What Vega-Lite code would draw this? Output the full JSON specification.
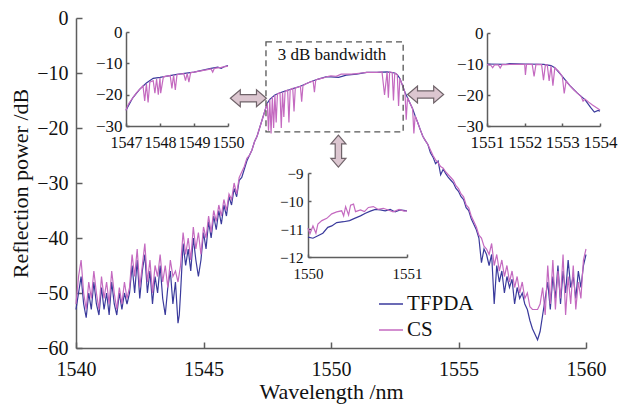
{
  "$schema": "https://vega.github.io/schema/vega-lite/v6.json",
  "width": 510,
  "height": 330,
  "autosize": {"type": "none"},
  "padding": {"left": 76, "top": 18, "right": 37, "bottom": 56},
  "background": "white",
  "config": {
    "view": {"stroke": null},
    "axis": {
      "grid": false,
      "domainColor": "#5e5e5e",
      "tickColor": "#5e5e5e",
      "domainWidth": 1.5,
      "tickWidth": 1.5,
      "labelFont": "Liberation Serif",
      "titleFont": "Liberation Serif",
      "labelColor": "#111111",
      "titleColor": "#111111",
      "titleFontWeight": "normal",
      "labelFlush": false,
      "labelOverlap": false
    },
    "legend": {
      "orient": "none",
      "legendX": 302,
      "legendY": 273,
      "symbolType": "stroke",
      "symbolSize": 576,
      "symbolStrokeWidth": 1.5,
      "labelFont": "Liberation Serif",
      "labelFontSize": 21,
      "labelColor": "#111111",
      "rowPadding": 3,
      "labelOffset": 3,
      "title": null
    }
  },
  "datasets": {
    "main": [
      {"s":"TFPDA","x":1540.0,"y":-53},{"s":"TFPDA","x":1540.1,"y":-50},{"s":"TFPDA","x":1540.2,"y":-47},{"s":"TFPDA","x":1540.3,"y":-52},{"s":"TFPDA","x":1540.4,"y":-54.5},{"s":"TFPDA","x":1540.5,"y":-50},{"s":"TFPDA","x":1540.6,"y":-53},{"s":"TFPDA","x":1540.7,"y":-48},{"s":"TFPDA","x":1540.8,"y":-52},{"s":"TFPDA","x":1540.9,"y":-54},
      {"s":"TFPDA","x":1541.0,"y":-49},{"s":"TFPDA","x":1541.1,"y":-53},{"s":"TFPDA","x":1541.2,"y":-50},{"s":"TFPDA","x":1541.3,"y":-54},{"s":"TFPDA","x":1541.4,"y":-48},{"s":"TFPDA","x":1541.5,"y":-52},{"s":"TFPDA","x":1541.6,"y":-54},{"s":"TFPDA","x":1541.7,"y":-50},{"s":"TFPDA","x":1541.8,"y":-53},{"s":"TFPDA","x":1541.9,"y":-50},
      {"s":"TFPDA","x":1542.0,"y":-52},{"s":"TFPDA","x":1542.1,"y":-50},{"s":"TFPDA","x":1542.2,"y":-45},{"s":"TFPDA","x":1542.3,"y":-50},{"s":"TFPDA","x":1542.4,"y":-44},{"s":"TFPDA","x":1542.5,"y":-51},{"s":"TFPDA","x":1542.6,"y":-46},{"s":"TFPDA","x":1542.7,"y":-43},{"s":"TFPDA","x":1542.8,"y":-50},{"s":"TFPDA","x":1542.9,"y":-46},
      {"s":"TFPDA","x":1543.0,"y":-52},{"s":"TFPDA","x":1543.1,"y":-47},{"s":"TFPDA","x":1543.2,"y":-50},{"s":"TFPDA","x":1543.3,"y":-45},{"s":"TFPDA","x":1543.4,"y":-51},{"s":"TFPDA","x":1543.5,"y":-54},{"s":"TFPDA","x":1543.6,"y":-49},{"s":"TFPDA","x":1543.7,"y":-46},{"s":"TFPDA","x":1543.8,"y":-52},{"s":"TFPDA","x":1543.9,"y":-48},
      {"s":"TFPDA","x":1544.0,"y":-55.5},{"s":"TFPDA","x":1544.05,"y":-54},{"s":"TFPDA","x":1544.1,"y":-50},{"s":"TFPDA","x":1544.2,"y":-41},{"s":"TFPDA","x":1544.3,"y":-45},{"s":"TFPDA","x":1544.4,"y":-42},{"s":"TFPDA","x":1544.5,"y":-46},{"s":"TFPDA","x":1544.6,"y":-40},{"s":"TFPDA","x":1544.7,"y":-44},{"s":"TFPDA","x":1544.8,"y":-47},{"s":"TFPDA","x":1544.9,"y":-44},
      {"s":"TFPDA","x":1545.0,"y":-39},{"s":"TFPDA","x":1545.1,"y":-42},{"s":"TFPDA","x":1545.2,"y":-37},{"s":"TFPDA","x":1545.3,"y":-40},{"s":"TFPDA","x":1545.4,"y":-36},{"s":"TFPDA","x":1545.5,"y":-38.5},{"s":"TFPDA","x":1545.6,"y":-35},{"s":"TFPDA","x":1545.7,"y":-37.5},{"s":"TFPDA","x":1545.8,"y":-34},{"s":"TFPDA","x":1545.9,"y":-36},
      {"s":"TFPDA","x":1546.0,"y":-32.5},{"s":"TFPDA","x":1546.1,"y":-34},{"s":"TFPDA","x":1546.2,"y":-31},{"s":"TFPDA","x":1546.3,"y":-32.5},{"s":"TFPDA","x":1546.4,"y":-29.5},{"s":"TFPDA","x":1546.5,"y":-29},{"s":"TFPDA","x":1546.6,"y":-27.5},{"s":"TFPDA","x":1546.7,"y":-26},{"s":"TFPDA","x":1546.8,"y":-25},{"s":"TFPDA","x":1546.9,"y":-24},
      {"s":"TFPDA","x":1547.0,"y":-22.5},{"s":"TFPDA","x":1547.1,"y":-21.5},{"s":"TFPDA","x":1547.2,"y":-20},{"s":"TFPDA","x":1547.3,"y":-18.5},{"s":"TFPDA","x":1547.4,"y":-17},{"s":"TFPDA","x":1547.5,"y":-15.5},{"s":"TFPDA","x":1547.6,"y":-14.8},{"s":"TFPDA","x":1547.8,"y":-14.0},
      {"s":"TFPDA","x":1548.0,"y":-13.6},{"s":"TFPDA","x":1548.2,"y":-13.3},{"s":"TFPDA","x":1548.4,"y":-13.0},{"s":"TFPDA","x":1548.6,"y":-12.7},{"s":"TFPDA","x":1548.8,"y":-12.4},{"s":"TFPDA","x":1549.0,"y":-12.0},{"s":"TFPDA","x":1549.2,"y":-11.6},{"s":"TFPDA","x":1549.5,"y":-11.1},{"s":"TFPDA","x":1549.8,"y":-10.7},
      {"s":"TFPDA","x":1550.0,"y":-10.7},{"s":"TFPDA","x":1550.3,"y":-10.8},{"s":"TFPDA","x":1550.6,"y":-10.4},{"s":"TFPDA","x":1551.0,"y":-10.2},{"s":"TFPDA","x":1551.4,"y":-9.9},{"s":"TFPDA","x":1551.8,"y":-9.9},{"s":"TFPDA","x":1552.2,"y":-9.8},{"s":"TFPDA","x":1552.5,"y":-10.0},{"s":"TFPDA","x":1552.6,"y":-10.3},{"s":"TFPDA","x":1552.7,"y":-11},{"s":"TFPDA","x":1552.8,"y":-12.2},{"s":"TFPDA","x":1552.9,"y":-13.5},
      {"s":"TFPDA","x":1553.0,"y":-14.5},{"s":"TFPDA","x":1553.1,"y":-15.5},{"s":"TFPDA","x":1553.2,"y":-16.5},{"s":"TFPDA","x":1553.3,"y":-17.8},{"s":"TFPDA","x":1553.4,"y":-19},{"s":"TFPDA","x":1553.5,"y":-20.3},{"s":"TFPDA","x":1553.6,"y":-21.5},{"s":"TFPDA","x":1553.7,"y":-22.3},{"s":"TFPDA","x":1553.8,"y":-23},{"s":"TFPDA","x":1553.9,"y":-24.5},
      {"s":"TFPDA","x":1554.0,"y":-25.3},{"s":"TFPDA","x":1554.1,"y":-26.5},{"s":"TFPDA","x":1554.2,"y":-26},{"s":"TFPDA","x":1554.3,"y":-28.5},{"s":"TFPDA","x":1554.4,"y":-27.5},{"s":"TFPDA","x":1554.5,"y":-28.3},{"s":"TFPDA","x":1554.6,"y":-29},{"s":"TFPDA","x":1554.7,"y":-29.5},{"s":"TFPDA","x":1554.8,"y":-30},{"s":"TFPDA","x":1554.9,"y":-31},
      {"s":"TFPDA","x":1555.0,"y":-31.5},{"s":"TFPDA","x":1555.1,"y":-32.5},{"s":"TFPDA","x":1555.2,"y":-33},{"s":"TFPDA","x":1555.3,"y":-34.5},{"s":"TFPDA","x":1555.4,"y":-35},{"s":"TFPDA","x":1555.5,"y":-36.5},{"s":"TFPDA","x":1555.6,"y":-37.5},{"s":"TFPDA","x":1555.7,"y":-38.5},{"s":"TFPDA","x":1555.8,"y":-40},{"s":"TFPDA","x":1555.9,"y":-44.5},
      {"s":"TFPDA","x":1556.0,"y":-42},{"s":"TFPDA","x":1556.1,"y":-43},{"s":"TFPDA","x":1556.2,"y":-45},{"s":"TFPDA","x":1556.3,"y":-43},{"s":"TFPDA","x":1556.4,"y":-52},{"s":"TFPDA","x":1556.5,"y":-45},{"s":"TFPDA","x":1556.6,"y":-48},{"s":"TFPDA","x":1556.7,"y":-46},{"s":"TFPDA","x":1556.8,"y":-50},{"s":"TFPDA","x":1556.9,"y":-47},
      {"s":"TFPDA","x":1557.0,"y":-49},{"s":"TFPDA","x":1557.1,"y":-47.5},{"s":"TFPDA","x":1557.2,"y":-52},{"s":"TFPDA","x":1557.3,"y":-49},{"s":"TFPDA","x":1557.4,"y":-51},{"s":"TFPDA","x":1557.5,"y":-50},{"s":"TFPDA","x":1557.6,"y":-52},{"s":"TFPDA","x":1557.7,"y":-53},{"s":"TFPDA","x":1557.8,"y":-55},{"s":"TFPDA","x":1557.9,"y":-56.5},
      {"s":"TFPDA","x":1558.0,"y":-57.5},{"s":"TFPDA","x":1558.1,"y":-58.5},{"s":"TFPDA","x":1558.2,"y":-57},{"s":"TFPDA","x":1558.3,"y":-54},{"s":"TFPDA","x":1558.4,"y":-51},{"s":"TFPDA","x":1558.5,"y":-48},{"s":"TFPDA","x":1558.6,"y":-53},{"s":"TFPDA","x":1558.7,"y":-47},{"s":"TFPDA","x":1558.8,"y":-51},{"s":"TFPDA","x":1558.9,"y":-45},
      {"s":"TFPDA","x":1559.0,"y":-52},{"s":"TFPDA","x":1559.1,"y":-46},{"s":"TFPDA","x":1559.2,"y":-50},{"s":"TFPDA","x":1559.3,"y":-44},{"s":"TFPDA","x":1559.4,"y":-49},{"s":"TFPDA","x":1559.5,"y":-47},{"s":"TFPDA","x":1559.6,"y":-51},{"s":"TFPDA","x":1559.7,"y":-46},{"s":"TFPDA","x":1559.8,"y":-49},{"s":"TFPDA","x":1559.9,"y":-45},{"s":"TFPDA","x":1560.0,"y":-43},

      {"s":"CS","x":1540.0,"y":-52},{"s":"CS","x":1540.1,"y":-47},{"s":"CS","x":1540.2,"y":-44},{"s":"CS","x":1540.3,"y":-50},{"s":"CS","x":1540.4,"y":-53},{"s":"CS","x":1540.5,"y":-48},{"s":"CS","x":1540.6,"y":-51},{"s":"CS","x":1540.7,"y":-46},{"s":"CS","x":1540.8,"y":-50},{"s":"CS","x":1540.9,"y":-53},
      {"s":"CS","x":1541.0,"y":-47},{"s":"CS","x":1541.1,"y":-51},{"s":"CS","x":1541.2,"y":-48},{"s":"CS","x":1541.3,"y":-52},{"s":"CS","x":1541.4,"y":-46},{"s":"CS","x":1541.5,"y":-50},{"s":"CS","x":1541.6,"y":-53},{"s":"CS","x":1541.7,"y":-49},{"s":"CS","x":1541.8,"y":-52},{"s":"CS","x":1541.9,"y":-48},
      {"s":"CS","x":1542.0,"y":-51},{"s":"CS","x":1542.1,"y":-49},{"s":"CS","x":1542.2,"y":-43},{"s":"CS","x":1542.3,"y":-47},{"s":"CS","x":1542.4,"y":-42},{"s":"CS","x":1542.5,"y":-49},{"s":"CS","x":1542.6,"y":-45},{"s":"CS","x":1542.7,"y":-41},{"s":"CS","x":1542.8,"y":-48},{"s":"CS","x":1542.9,"y":-44},
      {"s":"CS","x":1543.0,"y":-50},{"s":"CS","x":1543.1,"y":-45},{"s":"CS","x":1543.2,"y":-47},{"s":"CS","x":1543.3,"y":-43},{"s":"CS","x":1543.4,"y":-48},{"s":"CS","x":1543.5,"y":-45},{"s":"CS","x":1543.6,"y":-49},{"s":"CS","x":1543.7,"y":-44},{"s":"CS","x":1543.8,"y":-47},{"s":"CS","x":1543.9,"y":-46},
      {"s":"CS","x":1544.0,"y":-48},{"s":"CS","x":1544.1,"y":-45},{"s":"CS","x":1544.2,"y":-39},{"s":"CS","x":1544.3,"y":-43},{"s":"CS","x":1544.4,"y":-40},{"s":"CS","x":1544.5,"y":-44},{"s":"CS","x":1544.6,"y":-38},{"s":"CS","x":1544.7,"y":-42},{"s":"CS","x":1544.8,"y":-39},{"s":"CS","x":1544.9,"y":-43},
      {"s":"CS","x":1545.0,"y":-38},{"s":"CS","x":1545.1,"y":-40},{"s":"CS","x":1545.2,"y":-36},{"s":"CS","x":1545.3,"y":-39},{"s":"CS","x":1545.4,"y":-35},{"s":"CS","x":1545.5,"y":-37},{"s":"CS","x":1545.6,"y":-34},{"s":"CS","x":1545.7,"y":-36},{"s":"CS","x":1545.8,"y":-33},{"s":"CS","x":1545.9,"y":-35},
      {"s":"CS","x":1546.0,"y":-32},{"s":"CS","x":1546.1,"y":-33},{"s":"CS","x":1546.2,"y":-30},{"s":"CS","x":1546.3,"y":-32},{"s":"CS","x":1546.4,"y":-29},{"s":"CS","x":1546.5,"y":-28},{"s":"CS","x":1546.6,"y":-27},{"s":"CS","x":1546.7,"y":-25.5},{"s":"CS","x":1546.8,"y":-25},{"s":"CS","x":1546.9,"y":-24},
      {"s":"CS","x":1547.0,"y":-22.5},{"s":"CS","x":1547.1,"y":-21.5},{"s":"CS","x":1547.2,"y":-20},{"s":"CS","x":1547.3,"y":-18.5},{"s":"CS","x":1547.4,"y":-17},{"s":"CS","x":1547.5,"y":-15.5},{"s":"CS","x":1547.55,"y":-20.5},{"s":"CS","x":1547.6,"y":-14.8},{"s":"CS","x":1547.65,"y":-21},{"s":"CS","x":1547.7,"y":-14.3},{"s":"CS","x":1547.75,"y":-20},{"s":"CS","x":1547.8,"y":-14.0},{"s":"CS","x":1547.85,"y":-19},{"s":"CS","x":1547.9,"y":-13.8},
      {"s":"CS","x":1548.0,"y":-13.6},{"s":"CS","x":1548.05,"y":-20},{"s":"CS","x":1548.1,"y":-13.5},{"s":"CS","x":1548.15,"y":-18},{"s":"CS","x":1548.2,"y":-13.3},{"s":"CS","x":1548.3,"y":-13.1},{"s":"CS","x":1548.35,"y":-19},{"s":"CS","x":1548.4,"y":-13.0},{"s":"CS","x":1548.5,"y":-12.8},{"s":"CS","x":1548.55,"y":-17},{"s":"CS","x":1548.6,"y":-12.7},{"s":"CS","x":1548.7,"y":-12.6},{"s":"CS","x":1548.8,"y":-12.4},{"s":"CS","x":1548.85,"y":-15.2},{"s":"CS","x":1548.9,"y":-12.3},
      {"s":"CS","x":1549.0,"y":-12.0},{"s":"CS","x":1549.2,"y":-11.6},{"s":"CS","x":1549.3,"y":-11.5},{"s":"CS","x":1549.35,"y":-13.5},{"s":"CS","x":1549.4,"y":-11.3},{"s":"CS","x":1549.5,"y":-11.1},{"s":"CS","x":1549.7,"y":-10.9},{"s":"CS","x":1549.9,"y":-10.6},
      {"s":"CS","x":1550.0,"y":-10.5},{"s":"CS","x":1550.2,"y":-10.6},{"s":"CS","x":1550.4,"y":-10.2},{"s":"CS","x":1550.6,"y":-10.2},{"s":"CS","x":1550.8,"y":-10.2},{"s":"CS","x":1551.0,"y":-10.1},{"s":"CS","x":1551.2,"y":-10.0},{"s":"CS","x":1551.4,"y":-9.9},{"s":"CS","x":1551.6,"y":-9.9},{"s":"CS","x":1551.8,"y":-9.9},
      {"s":"CS","x":1552.0,"y":-9.8},{"s":"CS","x":1552.1,"y":-14},{"s":"CS","x":1552.2,"y":-9.8},{"s":"CS","x":1552.25,"y":-14.5},{"s":"CS","x":1552.3,"y":-9.8},{"s":"CS","x":1552.4,"y":-9.9},{"s":"CS","x":1552.45,"y":-15},{"s":"CS","x":1552.5,"y":-10.0},{"s":"CS","x":1552.6,"y":-10.3},{"s":"CS","x":1552.65,"y":-16},{"s":"CS","x":1552.7,"y":-11},{"s":"CS","x":1552.8,"y":-12.2},{"s":"CS","x":1552.9,"y":-13.5},{"s":"CS","x":1552.95,"y":-18.5},
      {"s":"CS","x":1553.0,"y":-14.5},{"s":"CS","x":1553.1,"y":-15.5},{"s":"CS","x":1553.2,"y":-16.5},{"s":"CS","x":1553.25,"y":-21},{"s":"CS","x":1553.3,"y":-17.8},{"s":"CS","x":1553.4,"y":-19},{"s":"CS","x":1553.5,"y":-20.3},{"s":"CS","x":1553.6,"y":-21.5},{"s":"CS","x":1553.7,"y":-22.3},{"s":"CS","x":1553.8,"y":-23},{"s":"CS","x":1553.9,"y":-24},
      {"s":"CS","x":1554.0,"y":-25},{"s":"CS","x":1554.1,"y":-25.8},{"s":"CS","x":1554.2,"y":-26.3},{"s":"CS","x":1554.3,"y":-27},{"s":"CS","x":1554.4,"y":-27.3},{"s":"CS","x":1554.5,"y":-28},{"s":"CS","x":1554.6,"y":-28.5},{"s":"CS","x":1554.7,"y":-29},{"s":"CS","x":1554.8,"y":-29.5},{"s":"CS","x":1554.9,"y":-30.5},
      {"s":"CS","x":1555.0,"y":-31},{"s":"CS","x":1555.1,"y":-32},{"s":"CS","x":1555.2,"y":-32.5},{"s":"CS","x":1555.3,"y":-34},{"s":"CS","x":1555.4,"y":-34.5},{"s":"CS","x":1555.5,"y":-36},{"s":"CS","x":1555.6,"y":-37},{"s":"CS","x":1555.7,"y":-38},{"s":"CS","x":1555.8,"y":-39.5},{"s":"CS","x":1555.9,"y":-40},
      {"s":"CS","x":1556.0,"y":-41.5},{"s":"CS","x":1556.1,"y":-42},{"s":"CS","x":1556.2,"y":-43},{"s":"CS","x":1556.3,"y":-41},{"s":"CS","x":1556.4,"y":-45},{"s":"CS","x":1556.5,"y":-43},{"s":"CS","x":1556.6,"y":-46},{"s":"CS","x":1556.7,"y":-44},{"s":"CS","x":1556.8,"y":-47},{"s":"CS","x":1556.9,"y":-45},
      {"s":"CS","x":1557.0,"y":-48},{"s":"CS","x":1557.1,"y":-46},{"s":"CS","x":1557.2,"y":-49},{"s":"CS","x":1557.3,"y":-47},{"s":"CS","x":1557.4,"y":-50},{"s":"CS","x":1557.5,"y":-48},{"s":"CS","x":1557.6,"y":-51},{"s":"CS","x":1557.7,"y":-50},{"s":"CS","x":1557.8,"y":-52.5},{"s":"CS","x":1557.9,"y":-53},
      {"s":"CS","x":1558.0,"y":-53},{"s":"CS","x":1558.1,"y":-53},{"s":"CS","x":1558.2,"y":-52},{"s":"CS","x":1558.3,"y":-49},{"s":"CS","x":1558.4,"y":-54},{"s":"CS","x":1558.5,"y":-45},{"s":"CS","x":1558.6,"y":-52},{"s":"CS","x":1558.7,"y":-44},{"s":"CS","x":1558.8,"y":-53},{"s":"CS","x":1558.9,"y":-46},
      {"s":"CS","x":1559.0,"y":-51},{"s":"CS","x":1559.1,"y":-43},{"s":"CS","x":1559.2,"y":-54},{"s":"CS","x":1559.3,"y":-47},{"s":"CS","x":1559.4,"y":-52},{"s":"CS","x":1559.5,"y":-45},{"s":"CS","x":1559.6,"y":-53},{"s":"CS","x":1559.7,"y":-48},{"s":"CS","x":1559.8,"y":-51},{"s":"CS","x":1559.9,"y":-44},{"s":"CS","x":1560.0,"y":-42}
    ],
    "inset1": [
      {"s":"TFPDA","x":1547.0,"y":-25},{"s":"TFPDA","x":1547.2,"y":-21},{"s":"TFPDA","x":1547.4,"y":-18.3},{"s":"TFPDA","x":1547.6,"y":-16.3},{"s":"TFPDA","x":1547.8,"y":-14.8},{"s":"TFPDA","x":1548.0,"y":-14.5},{"s":"TFPDA","x":1548.5,"y":-13.5},{"s":"TFPDA","x":1549.0,"y":-12.8},{"s":"TFPDA","x":1549.5,"y":-11.6},{"s":"TFPDA","x":1549.7,"y":-11.2},{"s":"TFPDA","x":1549.8,"y":-11.6},{"s":"TFPDA","x":1549.9,"y":-11.0},{"s":"TFPDA","x":1550.0,"y":-10.7},
      {"s":"CS","x":1547.0,"y":-25},{"s":"CS","x":1547.05,"y":-23.5},{"s":"CS","x":1547.1,"y":-22.5},{"s":"CS","x":1547.2,"y":-21},{"s":"CS","x":1547.3,"y":-19.5},{"s":"CS","x":1547.4,"y":-18.3},{"s":"CS","x":1547.5,"y":-17.2},{"s":"CS","x":1547.55,"y":-22},{"s":"CS","x":1547.6,"y":-16.5},{"s":"CS","x":1547.65,"y":-22.5},{"s":"CS","x":1547.7,"y":-16},{"s":"CS","x":1547.8,"y":-15.5},{"s":"CS","x":1547.85,"y":-19.5},{"s":"CS","x":1547.9,"y":-15},{"s":"CS","x":1547.95,"y":-20},{"s":"CS","x":1548.0,"y":-14.6},{"s":"CS","x":1548.02,"y":-19.5},{"s":"CS","x":1548.1,"y":-14.3},{"s":"CS","x":1548.2,"y":-14.1},{"s":"CS","x":1548.3,"y":-13.9},{"s":"CS","x":1548.35,"y":-18},{"s":"CS","x":1548.4,"y":-13.7},{"s":"CS","x":1548.45,"y":-18.5},{"s":"CS","x":1548.5,"y":-13.6},{"s":"CS","x":1548.6,"y":-13.4},{"s":"CS","x":1548.7,"y":-13.3},{"s":"CS","x":1548.75,"y":-15.5},{"s":"CS","x":1548.8,"y":-13.2},{"s":"CS","x":1548.85,"y":-16},{"s":"CS","x":1548.9,"y":-13.0},{"s":"CS","x":1549.0,"y":-12.8},{"s":"CS","x":1549.2,"y":-12.4},{"s":"CS","x":1549.4,"y":-12.0},{"s":"CS","x":1549.5,"y":-11.8},{"s":"CS","x":1549.55,"y":-12.8},{"s":"CS","x":1549.6,"y":-11.6},{"s":"CS","x":1549.8,"y":-11.3},{"s":"CS","x":1550.0,"y":-10.9}
    ],
    "inset2": [
      {"s":"TFPDA","x":1551.0,"y":-10.0},{"s":"TFPDA","x":1551.5,"y":-10.1},{"s":"TFPDA","x":1551.6,"y":-9.9},{"s":"TFPDA","x":1552.0,"y":-10.0},{"s":"TFPDA","x":1552.5,"y":-10.1},{"s":"TFPDA","x":1552.7,"y":-10.5},{"s":"TFPDA","x":1552.8,"y":-11.2},{"s":"TFPDA","x":1553.0,"y":-14},{"s":"TFPDA","x":1553.2,"y":-17},{"s":"TFPDA","x":1553.4,"y":-19.4},{"s":"TFPDA","x":1553.6,"y":-21.5},{"s":"TFPDA","x":1553.75,"y":-24},{"s":"TFPDA","x":1553.85,"y":-25.5},{"s":"TFPDA","x":1553.95,"y":-25},{"s":"TFPDA","x":1554.0,"y":-25.2},
      {"s":"CS","x":1551.0,"y":-10.2},{"s":"CS","x":1551.1,"y":-10.4},{"s":"CS","x":1551.15,"y":-11.2},{"s":"CS","x":1551.2,"y":-10.3},{"s":"CS","x":1551.3,"y":-10.3},{"s":"CS","x":1551.35,"y":-11.3},{"s":"CS","x":1551.4,"y":-10.2},{"s":"CS","x":1551.5,"y":-10.2},{"s":"CS","x":1551.6,"y":-10.1},{"s":"CS","x":1551.8,"y":-10.1},{"s":"CS","x":1552.0,"y":-10.1},{"s":"CS","x":1552.02,"y":-13.5},{"s":"CS","x":1552.05,"y":-10.1},{"s":"CS","x":1552.2,"y":-10.1},{"s":"CS","x":1552.25,"y":-14},{"s":"CS","x":1552.3,"y":-10.1},{"s":"CS","x":1552.45,"y":-10.2},{"s":"CS","x":1552.5,"y":-15.2},{"s":"CS","x":1552.55,"y":-10.3},{"s":"CS","x":1552.6,"y":-10.3},{"s":"CS","x":1552.65,"y":-15.5},{"s":"CS","x":1552.7,"y":-10.6},{"s":"CS","x":1552.75,"y":-17},{"s":"CS","x":1552.8,"y":-11.2},{"s":"CS","x":1552.9,"y":-12.3},{"s":"CS","x":1553.0,"y":-14.0},{"s":"CS","x":1553.05,"y":-19.5},{"s":"CS","x":1553.1,"y":-15.5},{"s":"CS","x":1553.2,"y":-17},{"s":"CS","x":1553.3,"y":-18.3},{"s":"CS","x":1553.4,"y":-19.4},{"s":"CS","x":1553.5,"y":-20.5},{"s":"CS","x":1553.55,"y":-22},{"s":"CS","x":1553.6,"y":-21.3},{"s":"CS","x":1553.7,"y":-22.3},{"s":"CS","x":1553.8,"y":-23.2},{"s":"CS","x":1553.9,"y":-24},{"s":"CS","x":1554.0,"y":-24.8}
    ],
    "inset3": [
      {"s":"TFPDA","x":1550.0,"y":-11.29},{"s":"TFPDA","x":1550.05,"y":-11.33},{"s":"TFPDA","x":1550.1,"y":-11.24},{"s":"TFPDA","x":1550.15,"y":-11.15},{"s":"TFPDA","x":1550.2,"y":-10.94},{"s":"TFPDA","x":1550.24,"y":-10.89},{"s":"TFPDA","x":1550.29,"y":-10.77},{"s":"TFPDA","x":1550.36,"y":-10.74},{"s":"TFPDA","x":1550.42,"y":-10.7},{"s":"TFPDA","x":1550.47,"y":-10.62},{"s":"TFPDA","x":1550.53,"y":-10.53},{"s":"TFPDA","x":1550.58,"y":-10.44},{"s":"TFPDA","x":1550.63,"y":-10.36},{"s":"TFPDA","x":1550.68,"y":-10.3},{"s":"TFPDA","x":1550.73,"y":-10.32},{"s":"TFPDA","x":1550.78,"y":-10.35},{"s":"TFPDA","x":1550.83,"y":-10.3},{"s":"TFPDA","x":1550.88,"y":-10.39},{"s":"TFPDA","x":1550.93,"y":-10.32},{"s":"TFPDA","x":1551.0,"y":-10.35},
      {"s":"CS","x":1550.0,"y":-10.97},{"s":"CS","x":1550.02,"y":-11.17},{"s":"CS","x":1550.05,"y":-10.89},{"s":"CS","x":1550.08,"y":-11.15},{"s":"CS","x":1550.1,"y":-10.82},{"s":"CS","x":1550.14,"y":-10.7},{"s":"CS","x":1550.19,"y":-10.62},{"s":"CS","x":1550.24,"y":-10.46},{"s":"CS","x":1550.29,"y":-10.39},{"s":"CS","x":1550.34,"y":-10.35},{"s":"CS","x":1550.36,"y":-10.53},{"s":"CS","x":1550.38,"y":-10.2},{"s":"CS","x":1550.41,"y":-10.5},{"s":"CS","x":1550.43,"y":-10.15},{"s":"CS","x":1550.46,"y":-10.11},{"s":"CS","x":1550.48,"y":-10.38},{"s":"CS","x":1550.53,"y":-10.32},{"s":"CS","x":1550.57,"y":-10.38},{"s":"CS","x":1550.61,"y":-10.23},{"s":"CS","x":1550.66,"y":-10.2},{"s":"CS","x":1550.71,"y":-10.3},{"s":"CS","x":1550.76,"y":-10.26},{"s":"CS","x":1550.81,"y":-10.32},{"s":"CS","x":1550.86,"y":-10.39},{"s":"CS","x":1550.92,"y":-10.3},{"s":"CS","x":1550.97,"y":-10.36},{"s":"CS","x":1551.0,"y":-10.35}
    ],
    "box": [{"x":1547.45,"x2":1552.83,"y":-4.35,"y2":-20.7}],
    "label": [{"x":1550.04,"y":-6.7,"t":"3 dB bandwidth"}],
    "harrows": [{"x":1546.76,"y":-14.6},{"x":1553.71,"y":-13.9}],
    "varrows": [{"x":1550.29,"y":-24.2}]
  },
  "layer": [
    {
      "layer": [
        {
          "data": {"name": "main"},
          "mark": {"type": "line", "strokeWidth": 1.2, "interpolate": "linear"},
          "encoding": {
            "x": {"field": "x", "type": "quantitative", "scale": {"domain": [1540, 1560], "nice": false, "zero": false},
                  "axis": {"values": [1540, 1545, 1550, 1555, 1560], "title": "Wavelength /nm", "tickSize": -6, "labelPadding": 17, "labelFontSize": 20, "titleFontSize": 22, "titlePadding": 2, "format": "d"}},
            "y": {"field": "y", "type": "quantitative", "scale": {"domain": [-60, 0], "nice": false, "zero": false},
                  "axis": {"values": [-60, -50, -40, -30, -20, -10, 0], "title": "Reflection power /dB", "tickSize": -6, "labelPadding": 14, "labelFontSize": 20, "titleFontSize": 22, "titlePadding": 4}},
            "color": {"field": "s", "type": "nominal", "scale": {"domain": ["TFPDA", "CS"], "range": ["#3a3a9c", "#c46ac0"]}},
            "detail": {"field": "s"}
          }
        },
        {
          "data": {"name": "box"},
          "mark": {"type": "rect", "fill": null, "stroke": "#555555", "strokeWidth": 1.3, "strokeDash": [6, 4]},
          "encoding": {
            "x": {"field": "x", "type": "quantitative"},
            "x2": {"field": "x2"},
            "y": {"field": "y", "type": "quantitative"},
            "y2": {"field": "y2"}
          }
        },
        {
          "data": {"name": "label"},
          "mark": {"type": "text", "font": "Liberation Serif", "fontSize": 17, "color": "#111111", "align": "center", "baseline": "middle"},
          "encoding": {
            "x": {"field": "x", "type": "quantitative"},
            "y": {"field": "y", "type": "quantitative"},
            "text": {"field": "t"}
          }
        },
        {
          "data": {"name": "harrows"},
          "mark": {"type": "point", "filled": true, "size": 1296, "shape": "M-1,0L-0.45,-0.47L-0.45,-0.2L0.45,-0.2L0.45,-0.47L1,0L0.45,0.47L0.45,0.2L-0.45,0.2L-0.45,0.47Z", "fill": "#dcc6d0", "stroke": "#6f6369", "strokeWidth": 1.2, "opacity": 1, "fillOpacity": 1},
          "encoding": {
            "x": {"field": "x", "type": "quantitative"},
            "y": {"field": "y", "type": "quantitative"}
          }
        },
        {
          "data": {"name": "varrows"},
          "mark": {"type": "point", "filled": true, "size": 1024, "shape": "M0,-1L-0.47,-0.45L-0.2,-0.45L-0.2,0.45L-0.47,0.45L0,1L0.47,0.45L0.2,0.45L0.2,-0.45L0.47,-0.45Z", "fill": "#dcc6d0", "stroke": "#6f6369", "strokeWidth": 1.2, "opacity": 1, "fillOpacity": 1},
          "encoding": {
            "x": {"field": "x", "type": "quantitative"},
            "y": {"field": "y", "type": "quantitative"}
          }
        }
      ]
    },
    {
      "data": {"name": "inset1"},
      "mark": {"type": "line", "strokeWidth": 1.2},
      "encoding": {
        "x": {"field": "x", "type": "quantitative", "scale": {"domain": [1547, 1550], "range": [50, 152], "nice": false, "zero": false},
              "axis": {"orient": "bottom", "offset": -222, "values": [1547, 1548, 1549, 1550], "title": null, "tickSize": -3, "labelPadding": 11, "labelFontSize": 16, "format": "d"}},
        "y": {"field": "y", "type": "quantitative", "scale": {"domain": [-30, 0], "range": [108, 14], "nice": false, "zero": false},
              "axis": {"orient": "left", "offset": -50, "values": [-30, -20, -10, 0], "title": null, "tickSize": -3, "labelPadding": 7, "labelFontSize": 17}},
        "color": {"field": "s", "type": "nominal", "scale": {"domain": ["TFPDA", "CS"], "range": ["#3a3a9c", "#c46ac0"]}}
      }
    },
    {
      "data": {"name": "inset2"},
      "mark": {"type": "line", "strokeWidth": 1.2},
      "encoding": {
        "x": {"field": "x", "type": "quantitative", "scale": {"domain": [1551, 1554], "range": [411, 524], "nice": false, "zero": false},
              "axis": {"orient": "bottom", "offset": -222, "values": [1551, 1552, 1553, 1554], "title": null, "tickSize": -3, "labelPadding": 11, "labelFontSize": 17, "format": "d"}},
        "y": {"field": "y", "type": "quantitative", "scale": {"domain": [-30, 0], "range": [108, 15], "nice": false, "zero": false},
              "axis": {"orient": "left", "offset": -411, "values": [-30, -20, -10, 0], "title": null, "tickSize": -3, "labelPadding": 7, "labelFontSize": 17}},
        "color": {"field": "s", "type": "nominal", "scale": {"domain": ["TFPDA", "CS"], "range": ["#3a3a9c", "#c46ac0"]}}
      }
    },
    {
      "data": {"name": "inset3"},
      "mark": {"type": "line", "strokeWidth": 1.2},
      "encoding": {
        "x": {"field": "x", "type": "quantitative", "scale": {"domain": [1550, 1551], "range": [232, 331], "nice": false, "zero": false},
              "axis": {"orient": "bottom", "offset": -91, "values": [1550, 1551], "title": null, "tickSize": -3, "labelPadding": 12, "labelFontSize": 15, "format": "d"}},
        "y": {"field": "y", "type": "quantitative", "scale": {"domain": [-12, -9], "range": [239, 155], "nice": false, "zero": false},
              "axis": {"orient": "left", "offset": -232, "values": [-12, -11, -10, -9], "title": null, "tickSize": -3, "labelPadding": 8, "labelFontSize": 15}},
        "color": {"field": "s", "type": "nominal", "scale": {"domain": ["TFPDA", "CS"], "range": ["#3a3a9c", "#c46ac0"]}}
      }
    }
  ],
  "resolve": {"scale": {"x": "independent", "y": "independent"}}
}
